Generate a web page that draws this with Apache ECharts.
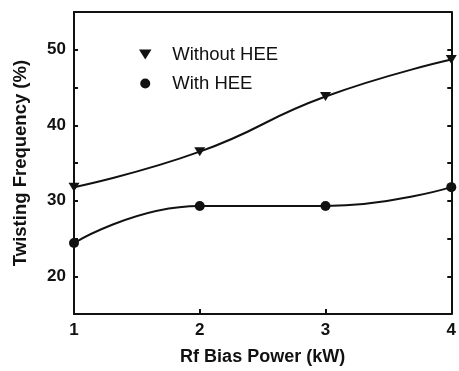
<!DOCTYPE html>
<html>
<head>
<meta charset="utf-8">
<script src="https://cdn.jsdelivr.net/npm/echarts@6/dist/echarts.min.js"></script>
<style>
  html, body { margin: 0; padding: 0; background: #fff; }
  #chart { width: 459px; height: 371px; }
</style>
</head>
<body>
<div id="chart"></div>
<script>
const powers = [1, 2, 3, 4];
const withoutHEE = [31.8, 36.5, 43.8, 48.7];
const withHEE = [24.4, 29.3, 29.3, 31.8];
const yTicks = [20, 30, 40, 50];

const ink = '#111';
const font = '"Liberation Sans", Arial, sans-serif';
const triDown = 'path://M0,0L10,0L5,8Z';

const chart = echarts.init(document.getElementById('chart'));

const option = {
  backgroundColor: '#fff',
  animation: false,
  grid: { left: 74, right: 6, top: 12, bottom: 54 },
  legend: {
    orient: 'vertical',
    left: 134,
    top: 40,
    itemWidth: 44,
    itemHeight: 10,
    itemGap: 10,
    symbolRotate: 0,
    textStyle: { fontFamily: font, fontSize: 18.5, color: ink },
    data: [
      { name: 'Without HEE', icon: triDown },
      { name: 'With HEE', icon: 'circle' }
    ]
  },
  xAxis: [
    {
      type: 'value',
      min: 1,
      max: 4,
      interval: 1,
      name: 'Rf Bias Power (kW)',
      nameLocation: 'middle',
      nameGap: 34,
      nameTextStyle: { fontFamily: font, fontSize: 18, fontWeight: 'bold', color: ink },
      axisLine: { lineStyle: { color: ink, width: 2 } },
      axisTick: { inside: true, length: 5, lineStyle: { color: ink, width: 2 } },
      axisLabel: { fontFamily: font, fontSize: 17, fontWeight: 'bold', color: ink, margin: 8 },
      splitLine: { show: false }
    },
    {
      type: 'value',
      position: 'top',
      min: 1,
      max: 4,
      interval: 1,
      axisLine: { show: true, lineStyle: { color: ink, width: 2 } },
      axisTick: { show: false },
      axisLabel: { show: false },
      splitLine: { show: false }
    }
  ],
  yAxis: [
    {
      type: 'value',
      min: 15,
      max: 55,
      interval: 5,
      name: 'Twisting Frequency (%)',
      nameLocation: 'middle',
      nameGap: 44,
      nameTextStyle: { fontFamily: font, fontSize: 18.5, fontWeight: 'bold', color: ink },
      axisLine: { show: true, lineStyle: { color: ink, width: 2 } },
      axisTick: { inside: true, length: 4, lineStyle: { color: ink, width: 2 } },
      axisLabel: {
        fontFamily: font, fontSize: 17, fontWeight: 'bold', color: ink, margin: 8,
        formatter: (v) => (yTicks.includes(v) ? String(v) : '')
      },
      splitLine: { show: false }
    },
    {
      type: 'value',
      position: 'right',
      min: 15,
      max: 55,
      interval: 5,
      axisLine: { show: true, lineStyle: { color: ink, width: 2 } },
      axisTick: { inside: true, length: 4, lineStyle: { color: ink, width: 2 } },
      axisLabel: { show: false },
      splitLine: { show: false }
    }
  ],
  series: [
    {
      name: 'Without HEE',
      type: 'line',
      smooth: 0.5,
      symbol: 'triangle',
      symbolRotate: 180,
      symbolSize: [11, 9],
      itemStyle: { color: ink },
      lineStyle: { color: ink, width: 2 },
      data: powers.map((p, i) => [p, withoutHEE[i]])
    },
    {
      name: 'With HEE',
      type: 'line',
      smooth: 0.5,
      symbol: 'circle',
      symbolSize: 10,
      itemStyle: { color: ink },
      lineStyle: { color: ink, width: 2 },
      data: powers.map((p, i) => [p, withHEE[i]])
    }
  ]
};

chart.setOption(option);
</script>
</body>
</html>
